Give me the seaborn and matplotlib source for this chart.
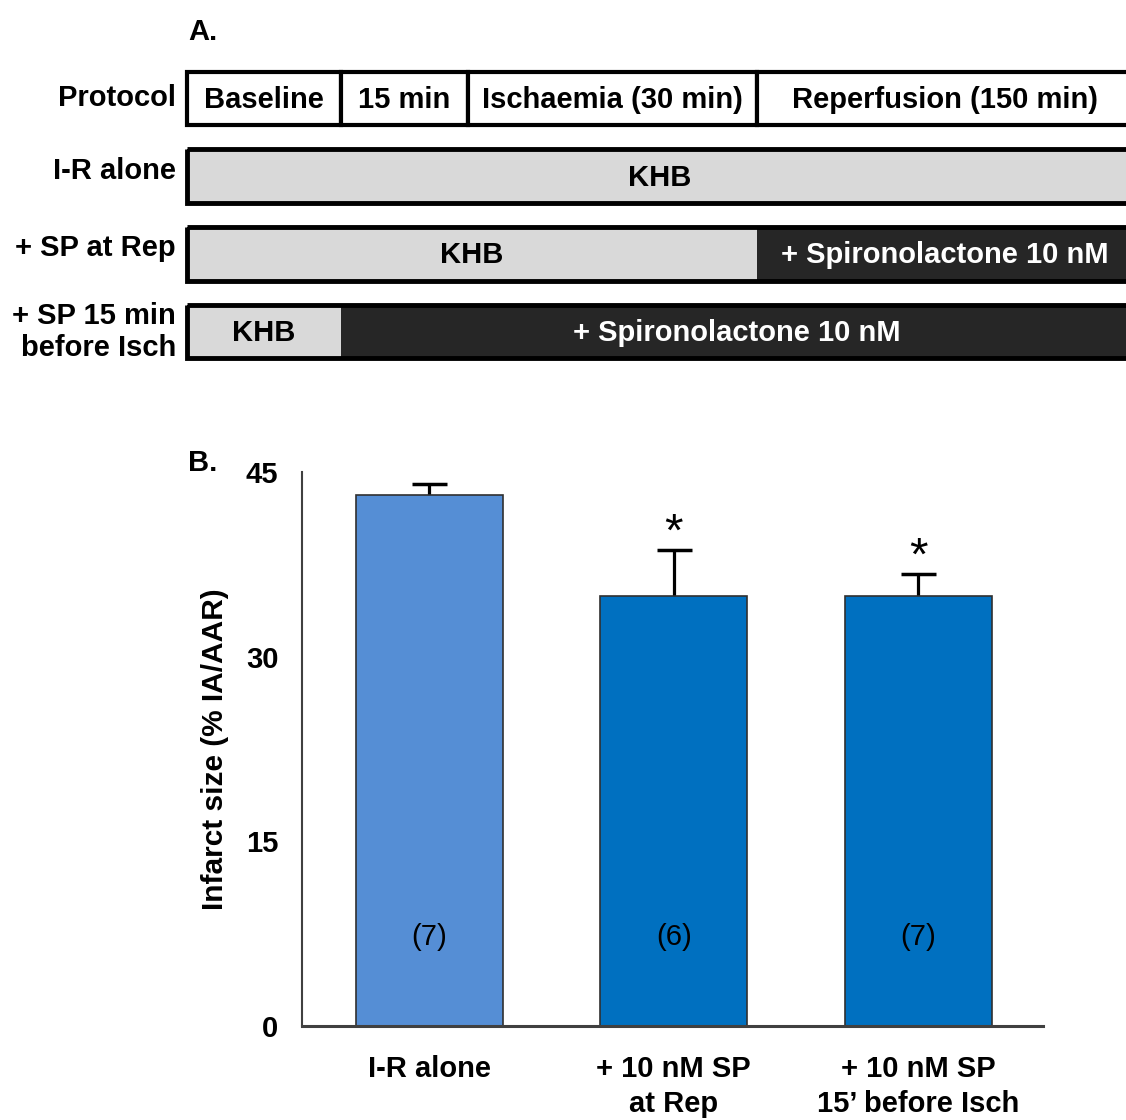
import matplotlib.pyplot as plt
import matplotlib.patches as mpatches
import seaborn as sns
import pandas as pd

# panel A: protocol schematic (stage widths are schematic, not to time scale)
stages = ['Baseline', '15 min', 'Ischaemia (30 min)', 'Reperfusion (150 min)']
stage_widths = [154, 127, 289, 375]
row_labels = ['Protocol', 'I-R alone', '+ SP at Rep', '+ SP 15 min\nbefore Isch']
# number of stages spent in KHB before spironolactone is added
khb_stages = [4, 3, 1]
treat_labels = ['KHB', '+ Spironolactone 10 nM']

# panel B: infarct size
groups = ['I-R alone', '+ 10 nM SP\nat Rep', '+ 10 nM SP\n15\u2019 before Isch']
infarct = [43.1, 34.9, 34.9]
sem = [0.9, 3.8, 1.8]
n_hearts = [7, 6, 7]
signif = ['', '*', '*']
bar_colors = ['#558ED5', '#0070C0', '#0070C0']

sns.set_style('white')
plt.rcParams['font.family'] = ['Liberation Sans', 'DejaVu Sans']
plt.rcParams['font.weight'] = 'bold'
plt.rcParams['text.color'] = 'black'
plt.rcParams['axes.labelcolor'] = 'black'
plt.rcParams['xtick.color'] = 'black'
plt.rcParams['ytick.color'] = 'black'

W, H = 1126, 1120
fig = plt.figure(figsize=(W / 100, H / 100), dpi=100)

light = '#D9D9D9'
dark = '#262626'
fs = 21

# ---- panel A ----
axa = fig.add_axes([(187 - 4) / W, (H - 362) / H, (W - 183) / W, (362 - 68) / H])
axa.set_xlim(-4, W - 187)
axa.set_ylim(3.345 + 0.05, -0.345 - 0.05)
axa.axis('off')

bounds = [0]
for w in stage_widths:
    bounds.append(bounds[-1] + w)
total = bounds[-1]
h = 0.69

# protocol row
for i, st in enumerate(stages):
    axa.add_patch(mpatches.Rectangle((bounds[i], -h / 2), stage_widths[i], h,
                                     facecolor='white', edgecolor='black', lw=3))
    axa.text((bounds[i] + bounds[i + 1]) / 2, 0.02, st, ha='center', va='center',
             fontsize=fs, fontweight='bold')

# treatment rows
for r, k in enumerate(khb_stages):
    y = r + 1
    split = bounds[k]
    axa.add_patch(mpatches.Rectangle((0, y - h / 2), split, h, facecolor=light, edgecolor='none'))
    axa.text(split / 2, y + 0.02, treat_labels[0], ha='center', va='center',
             fontsize=fs, fontweight='bold')
    if split < total:
        axa.add_patch(mpatches.Rectangle((split, y - h / 2), total - split, h,
                                         facecolor=dark, edgecolor='none'))
        axa.text((split + total) / 2, y + 0.02, treat_labels[1], ha='center', va='center',
                 fontsize=fs, fontweight='bold', color='white')
    axa.add_patch(mpatches.Rectangle((0, y - h / 2), total, h, facecolor='none',
                                     edgecolor='black', lw=3.5))

label_y = [98, 171, 248, 332]
for lab, yp in zip(row_labels, label_y):
    fig.text(176 / W, 1 - yp / H, lab, ha='right', va='center',
             fontsize=fs, fontweight='bold', linespacing=1.2)

fig.text(188 / W, 1 - 32 / H, 'A.', ha='left', va='center', fontsize=fs, fontweight='bold')

# ---- panel B ----
axb = fig.add_axes([302 / W, (H - 1026) / H, (1043 - 302) / W, (1026 - 472) / H])
df = pd.DataFrame({'group': groups, 'infarct': infarct})
sns.barplot(data=df, x='group', y='infarct', hue='group', palette=bar_colors, saturation=1,
            width=0.6, edgecolor='#303030', linewidth=1.2, legend=False, ax=axb, zorder=2)
eb = axb.errorbar(range(len(groups)), infarct, yerr=[[0] * len(sem), sem], fmt='none',
                  ecolor='black', elinewidth=2.3, capsize=12.6, capthick=2.5, zorder=1)
eb[1][0].set_visible(False)

for i in range(len(groups)):
    axb.text(i, 7.2, f'({n_hearts[i]})', ha='center', va='center', fontsize=fs,
             fontweight='normal')
    if signif[i]:
        axb.text(i, infarct[i] + sem[i] + 1.3, signif[i], ha='center', va='center',
                 fontsize=34, fontweight='normal')

axb.set_ylim(0, 45)
axb.set_xlim(-0.52, 2.51)
axb.set_yticks([0, 15, 30, 45])
axb.set_xlabel('')
axb.set_ylabel('Infarct size (% IA/AAR)', fontsize=21.5, fontweight='bold', labelpad=12)
sns.despine(ax=axb)
for s in ['left', 'bottom']:
    axb.spines[s].set_color('#404040')
axb.spines['left'].set_linewidth(1.5)
axb.spines['bottom'].set_linewidth(2.2)
axb.tick_params(axis='y', direction='out', length=9, width=1.5, color='#404040',
                labelsize=fs, pad=8)
axb.tick_params(axis='x', direction='out', length=9, width=1.5, color='#404040',
                labelsize=fs, pad=12)
for t in axb.get_xticklabels() + axb.get_yticklabels():
    t.set_fontweight('bold')
    t.set_linespacing(1.3)

fig.text(188 / W, 1 - 463 / H, 'B.', ha='left', va='center', fontsize=fs, fontweight='bold')

fig.savefig('out.png', dpi=100)
